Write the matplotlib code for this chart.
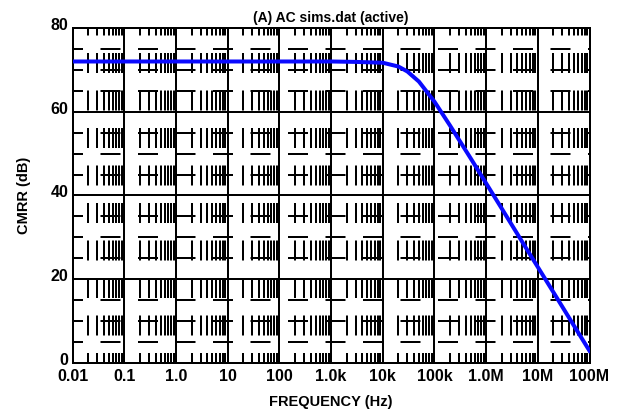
import numpy as np
import matplotlib.pyplot as plt
from matplotlib.transforms import ScaledTranslation

plt.rcParams['font.family'] = ['Liberation Sans', 'DejaVu Sans']
plt.rcParams['font.weight'] = 'bold'
plt.rcParams['lines.scale_dashes'] = False

# CMRR curve
freq = [0.01, 0.1, 1, 10, 100, 1e3, 3e3, 1e4, 2e4, 3e4, 5e4,
        1e5, 2e5, 5e5, 1e6, 2e6, 5e6, 1e7, 2e7, 5e7, 1e8]
cmrr = [72, 72, 72, 72, 72, 72, 71.9, 71.7, 70.8, 69.6, 67.2,
        62.4, 56.7, 48.9, 42.9, 36.9, 28.9, 22.9, 16.9, 8.9, 2.9]

x_ticks = [1e-2, 1e-1, 1, 10, 100, 1e3, 1e4, 1e5, 1e6, 1e7, 1e8]
x_labels = ['0.01', '0.1', '1.0', '10', '100', '1.0k', '10k', '100k', '1.0M', '10M', '100M']
y_ticks = [0, 20, 40, 60, 80]

fig = plt.figure(figsize=(6.21, 4.19), dpi=100)
ax = fig.add_axes([0.1171, 0.1337, 0.8322, 0.7995])
ax.set_xscale('log')
ax.set_xlim(1e-2, 1e8)
ax.set_ylim(0, 80)

# minor grid: dashed lines, like the datasheet plot
px = 0.72  # points per pixel at 100 dpi
dash = (10 * px, (20 * px, 17.5 * px))
for dec in x_ticks[:-1]:
    for m in range(2, 10):
        ax.axvline(dec * m, color='black', lw=2 * px, linestyle=dash, zorder=1)
for y in np.arange(5, 80, 5):
    if y % 20:
        ax.axhline(y, color='black', lw=2 * px, linestyle=dash, zorder=1)

# major grid
for xt in x_ticks:
    ax.axvline(xt, color='black', lw=2 * px, zorder=2)
for yt in y_ticks:
    ax.axhline(yt, color='black', lw=2 * px, zorder=2)

ax.plot(freq, cmrr, color='#0a0aff', lw=4 * px, zorder=3)

ax.set_xticks(x_ticks)
ax.set_xticklabels(x_labels)
ax.set_xticks([], minor=True)
ax.set_yticks(y_ticks)
ax.tick_params(length=0, labelsize=11.5)
ax.tick_params(axis='x', pad=4.5)
ax.tick_params(axis='y', pad=3)
for s in ax.spines.values():
    s.set_linewidth(2 * px)

# y labels sit a little above their lines in the reference
up = ScaledTranslation(0, 4 / 100, fig.dpi_scale_trans)
for lab in ax.get_yticklabels():
    lab.set_transform(lab.get_transform() + up)

ax.set_title('(A) AC sims.dat (active)', fontsize=10, fontweight='bold', pad=4)
ax.set_xlabel('FREQUENCY (Hz)', fontsize=10.5, fontweight='bold', labelpad=8)
ax.set_ylabel('CMRR (dB)', fontsize=10.5, fontweight='bold', labelpad=14)

fig.savefig('out.png', dpi=100)
